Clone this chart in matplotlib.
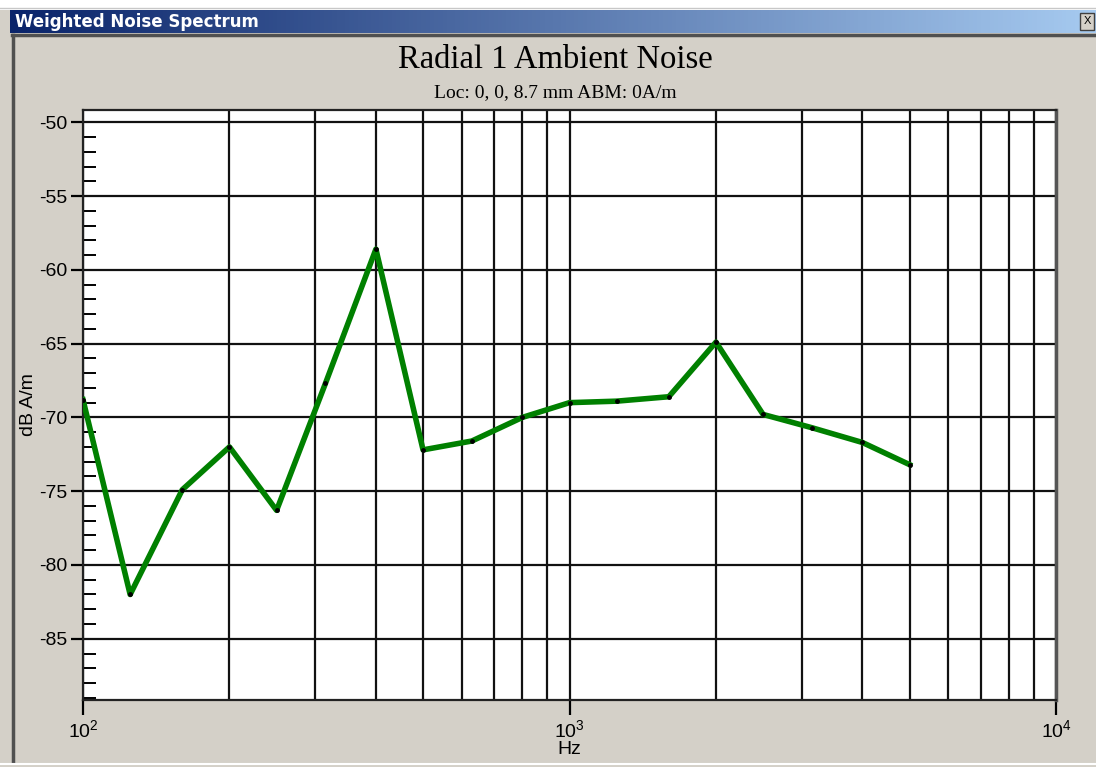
import numpy as np
import matplotlib
matplotlib.use('Agg')
from matplotlib import pyplot as plt
from matplotlib.colors import LinearSegmentedColormap
from matplotlib.patches import Rectangle
from matplotlib.ticker import MultipleLocator, LogLocator, NullFormatter

# third-octave band centres and weighted noise level
freq_hz = [100, 125, 160, 200, 250, 315, 400, 500, 630, 800, 1000, 1250,
           1600, 2000, 2500, 3150, 4000, 5000]
level_db = [-68.8, -82.0, -74.9, -72.0, -76.3, -67.7, -58.6, -72.2, -71.6,
            -70.0, -69.0, -68.9, -68.6, -64.9, -69.8, -70.7, -71.7, -73.2]

window_title = 'Weighted Noise Spectrum'
chart_title = 'Radial 1 Ambient Noise'
chart_subtitle = 'Loc: 0, 0, 8.7 mm ABM: 0A/m'

plt.rcParams['font.family'] = ['Liberation Sans', 'DejaVu Sans']
plt.rcParams['mathtext.default'] = 'regular'
plt.rcParams['axes.unicode_minus'] = False

W, H = 1096, 767
fig = plt.figure(figsize=(W / 100, H / 100), dpi=100)
fig.patch.set_facecolor('#D4D0C8')

# window chrome, drawn in pixel coordinates
bg = fig.add_axes([0, 0, 1, 1], zorder=-5)
bg.axis('off')
bg.add_patch(Rectangle((0, 0), W, 10, facecolor='white', edgecolor='none'))
bg.plot([0, W], [8, 8], color='#C8C8C8', lw=1)
tb_cmap = LinearSegmentedColormap.from_list('tb', ['#0A246A', '#A6CAF0'])
bg.imshow(np.linspace(0, 1, 256)[None, :], cmap=tb_cmap, aspect='auto',
          extent=[10, W, 33, 10])
bg.text(15, 22, window_title, color='white', fontsize=12, fontweight='bold',
        family='DejaVu Sans', va='center', ha='left')
bg.add_patch(Rectangle((1080, 13), 14, 17, facecolor='#D4D0C8',
                       edgecolor='#404040', lw=1))
bg.text(1087, 21.5, 'X', fontsize=8, va='center', ha='center', color='black')
bg.plot([12, W], [35, 35], color='#505050', lw=2.5)
bg.plot([13, 13], [35, 762], color='#505050', lw=2.5)
bg.plot([0, W], [764, 764], color='white', lw=1.5)
bg.set_xlim(0, W)
bg.set_ylim(H, 0)

fig.text(555 / W, 1 - 68 / H, chart_title, family='Liberation Serif',
         fontsize=23.5, ha='center', va='baseline')
fig.text(555 / W, 1 - 97 / H, chart_subtitle, family='Liberation Serif',
         fontsize=14, ha='center', va='baseline')

ax = fig.add_axes([83 / W, 1 - 700 / H, (1056 - 83) / W, 590 / H])
ax.set_facecolor('white')
ax.plot(freq_hz, level_db, color='#008000', lw=4, zorder=3,
        solid_joinstyle='round')
ax.plot(freq_hz, level_db, 'o', color='black', ms=2.5, zorder=4)

ax.set_xscale('log')
ax.set_xlim(100, 10000)
ax.set_ylim(-89.15, -49.17)

ax.xaxis.set_major_locator(LogLocator(base=10))
ax.xaxis.set_minor_locator(LogLocator(base=10, subs=np.arange(2, 10)))
ax.xaxis.set_minor_formatter(NullFormatter())
ax.yaxis.set_major_locator(MultipleLocator(5))
ax.yaxis.set_minor_locator(MultipleLocator(1))

ax.grid(True, which='both', axis='x', color='#111111', lw=1.6)
ax.grid(True, which='major', axis='y', color='#111111', lw=1.6)

ax.tick_params(axis='x', which='major', direction='out', length=11, width=1.6,
               labelsize=14, pad=3)
ax.tick_params(axis='x', which='minor', length=0)
ax.tick_params(axis='y', which='major', direction='out', length=9, width=1.6,
               labelsize=14, pad=2)
ax.tick_params(axis='y', which='minor', direction='in', length=9, width=1.4)

for side in ['left', 'top', 'bottom']:
    ax.spines[side].set_color('#222222')
    ax.spines[side].set_linewidth(1.6)
ax.spines['right'].set_color('#555555')
ax.spines['right'].set_linewidth(2.5)

ax.set_xlabel('Hz', fontsize=14, labelpad=0)
ax.set_ylabel('dB A/m', fontsize=14, labelpad=2)

fig.savefig('out.png', dpi=100, facecolor=fig.get_facecolor())
